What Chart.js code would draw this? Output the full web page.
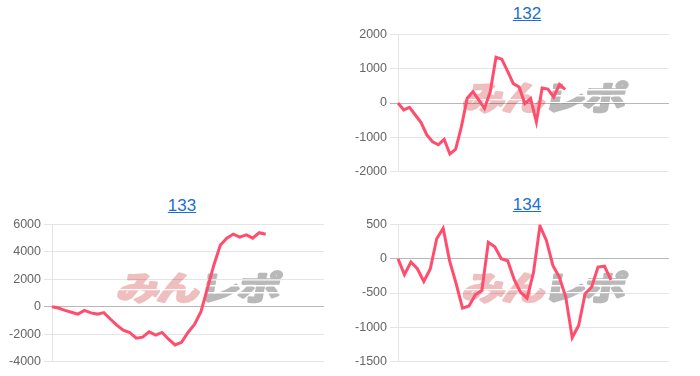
<!DOCTYPE html>
<html>
<head>
<meta charset="utf-8">
<script src="https://cdn.jsdelivr.net/npm/chart.js@4.4.1/dist/chart.umd.min.js"></script>
<style>
  html, body { margin: 0; padding: 0; background: #fff; }
  body { width: 700px; height: 376px; position: relative; overflow: hidden; }
  .titulo {
    position: absolute; width: 120px; text-align: center;
    font: 17px Arial, "Liberation Sans", sans-serif; line-height: 17px;
  }
  .titulo a { color: #1a6fd6; text-decoration: underline; }
  canvas { position: absolute; }
</style>
</head>
<body>
<div class="titulo" style="left:467px; top:5px;"><a href="#">132</a></div>
<canvas id="c132" style="left:350px; top:24px; width:330px; height:158px;"></canvas>

<div class="titulo" style="left:122px; top:197px;"><a href="#">133</a></div>
<canvas id="c133" style="left:4px; top:214px; width:330px; height:158px;"></canvas>

<div class="titulo" style="left:467px; top:196px;"><a href="#">134</a></div>
<canvas id="c134" style="left:350px; top:214px; width:330px; height:158px;"></canvas>

<script>
// --- DATOS ---
const labels132 = ['1','2','3','4','5','6','7','8','9','10','11','12','13','14','15','16','17','18','19','20',
  '21','22','23','24','25','26','27','28','29','30','31','32','33','34','35','36','37','38','39','40',
  '41','42','43','44','45','46','47','48'];
const valores132 = [0, -200, -130, -350, -570, -930, -1130, -1220, -1060, -1490, -1350, -690, 140, 330, 90,
  -160, 330, 1335, 1280, 930, 565, 470, -20, 130, -550, 440, 405, 175, 540, 395];

const labels133 = ['1','2','3','4','5','6','7','8','9','10','11','12','13','14','15','16','17','18','19','20',
  '21','22','23','24','25','26','27','28','29','30','31','32','33','34','35','36','37','38','39','40',
  '41','42','43'];
const valores133 = [0, -100, -270, -400, -540, -270, -450, -540, -430, -900, -1340, -1720, -1880, -2300, -2220,
  -1830, -2070, -1880, -2370, -2790, -2600, -1880, -1300, -370, 1340, 3050, 4500, 5000, 5300, 5080,
  5240, 5000, 5400, 5290];

const labels134 = labels133;
const valores134 = [0, -232, -48, -146, -331, -150, 292, 445, -30, -360, -720, -690, -526, -463, 240, 175,
  0, -30, -300, -490, -575, -200, 480, 267, -98, -268, -560, -1150, -974, -511, -414, -122, -108, -310];

const ejes = {
  c132: { min: -2000, max: 2000, step: 1000 },
  c133: { min: -4000, max: 6000, step: 2000 },
  c134: { min: -1500, max: 500, step: 500 }
};

Chart.defaults.font.family = 'Arial, "Liberation Sans", sans-serif';
Chart.defaults.font.size = 12.5;
Chart.defaults.color = '#666';

// marca de agua "みんレポ" (se dibuja antes de la grilla)
const marcaAgua = {
  id: 'marcaAgua',
  beforeDraw(chart) {
    const { ctx, chartArea } = chart;
    const cx = (chartArea.left + chartArea.right) / 2 + 12;
    const cy = (chartArea.top + chartArea.bottom) / 2 - 7;
    ctx.save();
    ctx.translate(cx, cy);
    ctx.transform(1.3, 0, -0.18, 1, 0, 0);
    ctx.font = 'bold 33px "Noto Sans CJK JP"';
    ctx.textBaseline = 'middle';
    ctx.lineJoin = 'round';
    ctx.lineWidth = 2.6;
    const gap = -2;
    const anchos = ['み', 'ん', 'レ', 'ポ'].map(t => ctx.measureText(t).width + gap);
    const total = anchos.reduce((a, b) => a + b, 0) - gap;
    let x = -total / 2;
    const inicioGris = x + anchos[0] + anchos[1];
    ['み', 'ん', 'レ', 'ポ'].forEach((t, i) => {
      const col = i < 2 ? '#efbebe' : '#b9b9b9';
      ctx.fillStyle = col;
      ctx.strokeStyle = col;
      ctx.strokeText(t, x, 1);
      ctx.fillText(t, x, 1);
      x += anchos[i];
    });
    // franjas blancas del logo
    ctx.fillStyle = '#fff';
    ctx.fillRect(-total / 2 - 5, 3, inicioGris - (-total / 2) + 2, 1.3);
    [-7, -1, 6].forEach(y => ctx.fillRect(inicioGris + 2, y, total / 2 - inicioGris + 8, 1.4));
    ctx.restore();
  }
};

function crearGrafico(id, labels, valores, padRight) {
  const eje = ejes[id];
  return new Chart(document.getElementById(id), {
    type: 'line',
    data: {
      labels,
      datasets: [{
        data: valores,
        borderColor: '#ff4d6d',
        backgroundColor: '#ff4d6d',
        borderWidth: 3,
        pointRadius: 0,
        tension: 0,
        fill: false
      }]
    },
    options: {
      responsive: false,
      animation: false,
      layout: { padding: { left: 0, right: padRight, top: 0, bottom: 0 } },
      plugins: { legend: { display: false }, tooltip: { enabled: false } },
      scales: {
        x: { display: false },
        y: {
          min: eje.min,
          max: eje.max,
          afterFit(scale) { scale.width = 48; },
          ticks: { stepSize: eje.step, padding: 3, callback: v => String(v) },
          grid: {
            tickLength: 8,
            color: c => c.tick && c.tick.value === 0 ? 'rgba(0,0,0,0.28)' : 'rgba(0,0,0,0.1)'
          },
          border: { color: 'rgba(0,0,0,0.1)' }
        }
      }
    },
    plugins: [marcaAgua]
  });
}

crearGrafico('c132', labels132, valores132, 11);
crearGrafico('c133', labels133, valores133, 10);
crearGrafico('c134', labels134, valores134, 11);
</script>
</body>
</html>
